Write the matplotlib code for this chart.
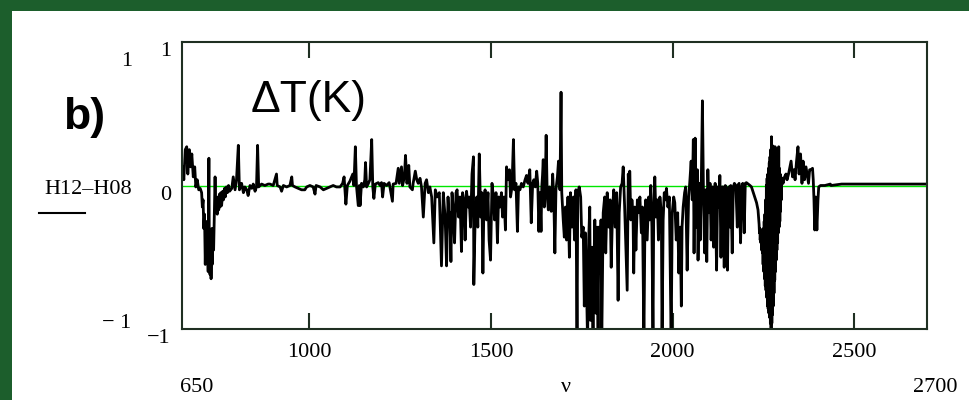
import numpy as np
import matplotlib
matplotlib.use("Agg")
import matplotlib.pyplot as plt
from matplotlib.patches import Rectangle
from matplotlib.lines import Line2D

# values (wavenumber, delta T in K)
nu_1 = [650, 652, 655, 659, 663, 666, 670, 674, 677, 681, 685, 688, 692, 696, 700,
        704, 706, 708, 710, 712, 714, 716, 718, 720, 722, 724, 725, 727, 729, 730,
        732, 733, 735, 737, 739, 741, 743, 745, 747, 749, 751, 753, 755, 757, 759,
        762, 764, 767, 769, 772, 775, 778, 781, 787, 791, 796, 800, 805, 808, 814,
        819, 823, 828, 832, 837, 842, 846, 851, 855, 858, 861, 869, 878, 887]
dt_1 = [0.05, 0.13, 0.04, 0.25, 0.27, 0.08, 0.25, 0.13, 0.22, 0.06, 0.13, -0.01, 0.04, -0.03, -0.02,
        -0.05, -0.15, -0.10, -0.30, -0.20, -0.55, -0.25, -0.45, -0.30, -0.60, 0.19, -0.35, -0.62, -0.40, -0.65,
        -0.30, -0.55, -0.30, -0.45, -0.20, 0.06, -0.19, -0.10, -0.20, -0.08, -0.17, -0.06, -0.15, -0.05, -0.14,
        -0.04, -0.10, -0.02, -0.08, -0.01, -0.05, 0.0, -0.04, -0.02, 0.06, -0.03, 0.04, 0.28, -0.03, 0.015,
        -0.05, -0.01, -0.03, -0.07, 0.0, -0.02, 0.01, -0.04, -0.01, 0.28, -0.01, 0.01, 0.0, 0.01]

nu_2 = [892, 901, 910, 912, 920, 924, 929, 938, 947, 952, 954, 961, 970, 979, 988,
        993, 1002, 1011, 1016, 1019, 1030, 1039, 1048, 1057, 1066, 1075, 1085, 1092, 1096, 1101,
        1105, 1112, 1120, 1123, 1127, 1130, 1135, 1138]
dt_2 = [0.01, 0.0, 0.08, 0.0, -0.01, -0.04, 0.0, -0.01, 0.0, 0.06, 0.0, -0.01, -0.02, -0.03, -0.03,
        -0.01, 0.0, -0.01, -0.06, 0.0, -0.01, -0.03, -0.02, -0.01, 0.0, -0.01, -0.01, 0.015, 0.06, -0.13,
        0.0, 0.03, 0.08, 0.0, 0.27, 0.0, -0.14, 0.0]

nu_3 = [1140, 1144, 1149, 1153, 1155, 1158, 1163, 1167, 1172, 1175, 1178, 1182, 1190, 1195, 1199,
        1202, 1206, 1213, 1220, 1229, 1231, 1239, 1245, 1248, 1254, 1257, 1262, 1265, 1269, 1274,
        1277, 1284, 1286, 1292, 1296, 1300, 1305, 1309, 1314, 1319, 1323, 1328, 1332, 1337, 1343,
        1347, 1352, 1358, 1364, 1369, 1374, 1378, 1382, 1385]
dt_3 = [-0.14, 0.015, -0.01, 0.04, 0.16, -0.01, 0.015, 0.04, 0.32, -0.01, -0.09, 0.01, 0.02, 0.0, 0.02,
        -0.08, 0.015, 0.0, 0.02, -0.11, 0.01, 0.015, 0.12, 0.015, 0.13, 0.0, 0.06, 0.21, 0.015, 0.14,
        -0.01, -0.03, 0.015, 0.10, 0.04, 0.015, 0.05, -0.01, -0.22, 0.015, 0.04, -0.05, -0.01, -0.08, -0.40,
        -0.03, -0.08, -0.05, -0.56, -0.05, -0.22, -0.56, -0.08, -0.24]

nu_4 = [1387, 1390, 1393, 1396, 1400, 1404, 1407, 1411, 1415, 1419, 1422, 1426, 1429, 1433, 1437,
        1440, 1444, 1448, 1452, 1453, 1457, 1461, 1464, 1468, 1472, 1475, 1478, 1481, 1484, 1488,
        1492, 1495, 1499, 1503, 1507, 1510, 1514, 1518, 1521, 1525, 1529, 1532, 1536, 1540, 1543,
        1547, 1551, 1554, 1558, 1562, 1565, 1569, 1573, 1576, 1580, 1584, 1589, 1594, 1598, 1602,
        1607, 1611, 1615, 1618, 1622, 1626, 1629, 1632]
dt_4 = [-0.19, -0.53, -0.05, -0.15, -0.40, -0.05, -0.03, -0.22, -0.08, -0.46, -0.05, -0.10, -0.38, -0.04, -0.15,
        -0.08, -0.29, 0.08, 0.20, -0.69, -0.19, -0.08, -0.29, 0.22, -0.22, -0.05, -0.61, -0.10, -0.03, -0.24,
        -0.05, -0.38, -0.52, 0.015, -0.08, -0.24, -0.05, -0.40, -0.08, -0.15, -0.05, -0.22, -0.08, -0.31, 0.13,
        0.04, 0.11, -0.08, -0.01, 0.32, -0.03, 0.015, -0.32, -0.01, -0.03, 0.015, -0.01, 0.04, 0.07, 0.015,
        0.11, -0.26, 0.015, 0.04, -0.01, 0.10, 0.015, -0.32]

nu_5 = [1635, 1638, 1640, 1642, 1644, 1647, 1650, 1652, 1655, 1658, 1661, 1663, 1666, 1670, 1673,
        1676, 1679, 1683, 1686, 1690, 1693, 1695, 1699, 1702, 1705, 1708, 1712, 1716, 1719, 1723,
        1727, 1730, 1734, 1737, 1739, 1743, 1747, 1750, 1754, 1757, 1760, 1763, 1766, 1769, 1772,
        1774, 1778, 1781, 1783, 1786, 1789, 1792, 1795, 1797, 1800, 1803, 1805, 1809, 1813, 1816,
        1820, 1824, 1828, 1831, 1835, 1838, 1842, 1846, 1850, 1853, 1857, 1861, 1864, 1868, 1872,
        1875, 1878, 1881]
dt_5 = [-0.05, -0.32, -0.01, 0.07, 0.18, -0.15, 0.06, 0.35, -0.08, -0.17, -0.01, -0.10, -0.18, 0.08, -0.08,
        -0.47, -0.03, 0.06, 0.17, -0.03, 0.65, -0.05, -0.24, -0.36, -0.15, -0.38, -0.08, -0.50, -0.05, -0.29,
        -0.08, -0.38, -0.03, -1.1, -0.05, -0.01, -0.08, -0.36, -0.29, -0.84, -0.33, -0.68, -1.1, -0.38, -0.15,
        -0.94, -0.43, -1.1, -0.61, -0.24, -0.89, -0.29, -1.1, -0.29, -0.61, -0.24, -1.1, -0.19, -0.08, -0.47,
        -0.05, -0.29, -0.10, -0.57, -0.15, -0.03, -0.29, -0.05, -0.80, -0.19, -0.01, 0.015, 0.13, -0.15, -0.47,
        -0.73, 0.08, -0.19]

nu_6 = [1882, 1885, 1888, 1891, 1893, 1896, 1899, 1903, 1906, 1910, 1914, 1917, 1921, 1924, 1926,
        1930, 1934, 1937, 1940, 1943, 1946, 1948, 1951, 1954, 1958, 1961, 1965, 1969, 1971, 1974,
        1977, 1980, 1983, 1987, 1991, 1993, 1996, 1999, 2003, 2006, 2010, 2014, 2017, 2021, 2024,
        2026, 2029, 2033, 2036, 2040, 2044, 2047, 2051, 2054, 2057, 2059, 2062, 2065, 2068, 2070,
        2073, 2076, 2079, 2082, 2085, 2088, 2091, 2094, 2097, 2100, 2103, 2106, 2110, 2113, 2117,
        2121, 2124, 2128]
dt_6 = [0.10, -0.24, -0.10, -0.19, -0.61, -0.15, -0.45, -0.10, -0.19, -0.08, -0.33, -0.15, -1.1, -0.22, -0.10,
        -0.38, -0.08, -0.24, 0.0, -0.29, -1.1, -0.19, 0.06, -0.22, -0.10, -0.38, -0.08, -0.19, -1.1, -0.24,
        -0.05, -0.10, -0.02, -0.15, -0.08, -0.50, -1.1, -0.19, -0.08, -0.12, -0.38, -0.19, -0.61, -0.29, -0.84,
        -0.29, -0.15, -0.05, -0.01, -0.59, -0.08, 0.015, 0.17, -0.10, 0.32, -0.47, 0.33, -0.29, 0.11, -0.52,
        0.015, -0.38, 0.04, 0.59, -0.08, -0.47, -0.03, -0.53, 0.11, -0.19, 0.015, -0.38, -0.01, -0.43, 0.015,
        -0.59, -0.01, -0.15]

nu_7 = [2130, 2133, 2136, 2139, 2142, 2145, 2148, 2151, 2154, 2158, 2160, 2164, 2167, 2170, 2174,
        2178, 2180, 2183, 2187, 2190, 2193, 2197, 2200, 2203, 2208, 2213, 2217, 2222, 2226, 2231,
        2235, 2238, 2239, 2240, 2241, 2242, 2243, 2244, 2245, 2246, 2247, 2248, 2249, 2250, 2251,
        2252, 2253, 2254, 2255, 2256, 2257, 2258, 2259, 2260, 2261, 2262, 2263, 2264, 2265, 2266,
        2267, 2268, 2269, 2270, 2271, 2272, 2273, 2274, 2275, 2276, 2277, 2278, 2279, 2280, 2281,
        2282, 2283, 2284, 2285, 2286, 2287, 2288, 2289, 2290, 2291, 2292, 2293, 2294, 2295, 2296,
        2297, 2298, 2299, 2300, 2304, 2308, 2312, 2315, 2319, 2323, 2326, 2330, 2334, 2337, 2341,
        2345, 2348, 2352, 2356, 2359, 2363, 2367, 2370, 2374, 2377]
dt_7 = [0.07, -0.50, -0.01, -0.01, -0.57, 0.0, -0.38, -0.59, -0.01, -0.29, 0.0, -0.47, -0.01, 0.015, 0.0,
        -0.29, 0.0, 0.015, -0.40, -0.01, 0.015, -0.33, 0.015, 0.02, 0.01, 0.0, -0.01, -0.05, -0.08, -0.12,
        -0.17, -0.27, -0.33, -0.30, -0.38, -0.33, -0.40, -0.31, -0.45, -0.31, -0.47, -0.35, -0.55, -0.30, -0.60,
        -0.25, -0.65, -0.20, -0.70, -0.10, -0.73, 0.0, -0.78, 0.05, -0.84, 0.08, -0.86, 0.12, -0.89, 0.16,
        -0.92, 0.20, -0.96, 0.25, -1.1, 0.34, -0.96, 0.28, -0.90, 0.22, -0.84, 0.27, -0.75, 0.20, -0.66,
        0.27, -0.60, 0.25, -0.52, 0.18, -0.45, 0.22, -0.40, 0.15, -0.33, 0.27, -0.29, 0.12, -0.25, 0.08,
        -0.18, 0.06, -0.10, 0.05, 0.015, 0.06, 0.08, 0.04, 0.08, 0.13, 0.17, 0.06, 0.11, 0.04, 0.17,
        0.27, 0.08, 0.22, 0.015, 0.17, 0.04, 0.13, 0.08, 0.015, 0.11]

nu_8 = [2381, 2385, 2387, 2389, 2391, 2394, 2397, 2400, 2402, 2407, 2419, 2434, 2436, 2465,
        2500, 2550, 2600, 2650, 2700]
dt_8 = [0.11, 0.12, 0.04, -0.10, -0.31, -0.08, -0.31, -0.10, -0.01, 0.0, 0.0, 0.01, 0.0, 0.01,
        0.01, 0.01, 0.01, 0.01, 0.01]

x_ticks = [1000, 1500, 2000, 2500]
x_min, x_max = 650, 2700
y_min, y_max = -1, 1

W, H = 969, 400


def fx(px):
    return px / W


def fy(py):
    return 1 - py / H


def main():
    nu = np.concatenate([nu_1, nu_2, nu_3, nu_4, nu_5, nu_6, nu_7, nu_8])
    dt = np.concatenate([dt_1, dt_2, dt_3, dt_4, dt_5, dt_6, dt_7, dt_8])

    fig = plt.figure(figsize=(W / 100, H / 100), dpi=100)
    fig.patch.set_facecolor('#1c5e2c')
    # white slide panel, kept behind the axes
    fig.patches.append(Rectangle((fx(12), 0), 1 - fx(12), fy(11), transform=fig.transFigure,
                                 facecolor='white', edgecolor='none', zorder=-5))

    ax = fig.add_axes([fx(182), fy(329), fx(927) - fx(182), fy(42) - fy(329)])
    ax.set_zorder(1)
    ax.set_facecolor('white')
    ax.axhline(0, color='#00e600', lw=1.0, zorder=1)
    ax.plot(nu, dt, color='black', lw=2.0, zorder=2)
    ax.set_xlim(x_min, x_max)
    ax.set_ylim(y_min, y_max)

    for s in ax.spines.values():
        s.set_color('#1f2f22')
        s.set_linewidth(1.5)

    serif = 'Liberation Serif'
    ax.set_xticks(x_ticks)
    ax.set_xticklabels([str(t) for t in x_ticks], fontfamily=serif, fontsize=16)
    ax.tick_params(axis='x', direction='in', length=11.5, width=1.5, top=True,
                   color='#1f2f22', pad=10)
    ax.set_yticks([y_min, 0, y_max])
    ax.set_yticklabels(['\u22121', '0', '1'], fontfamily=serif, fontsize=16)
    ax.tick_params(axis='y', length=0, pad=8)
    for lab in ax.get_yticklabels():
        lab.set_verticalalignment('top')

    # Mathcad style outer labels
    fig.text(fx(197), fy(388), '650', ha='center', va='center', fontfamily=serif, fontsize=16)
    fig.text(fx(566), fy(388), '\u03bd', ha='center', va='center', fontfamily=serif, fontsize=16)
    fig.text(fx(935), fy(388), '2700', ha='center', va='center', fontfamily=serif, fontsize=16)
    fig.text(fx(127), fy(62), '1', ha='center', va='center', fontfamily=serif, fontsize=16)
    fig.text(fx(117), fy(324), '\u2212 1', ha='center', va='center', fontfamily=serif, fontsize=16)
    fig.text(fx(88), fy(190), 'H12\u2013H08', ha='center', va='center', fontfamily=serif, fontsize=16)
    fig.lines.append(Line2D([fx(39), fx(85)], [fy(213), fy(213)], transform=fig.transFigure,
                            color='black', lw=1.5))

    fig.text(fx(84), fy(117), 'b)', ha='center', va='center', fontfamily='Liberation Sans',
             fontsize=32, fontweight='bold')
    ax.text(0.17, 0.795, '\u0394T(K)', transform=ax.transAxes, ha='center', va='center',
            fontfamily='Liberation Sans', fontsize=32)

    fig.savefig('out.png', dpi=100, facecolor=fig.get_facecolor())


if __name__ == "__main__":
    main()
